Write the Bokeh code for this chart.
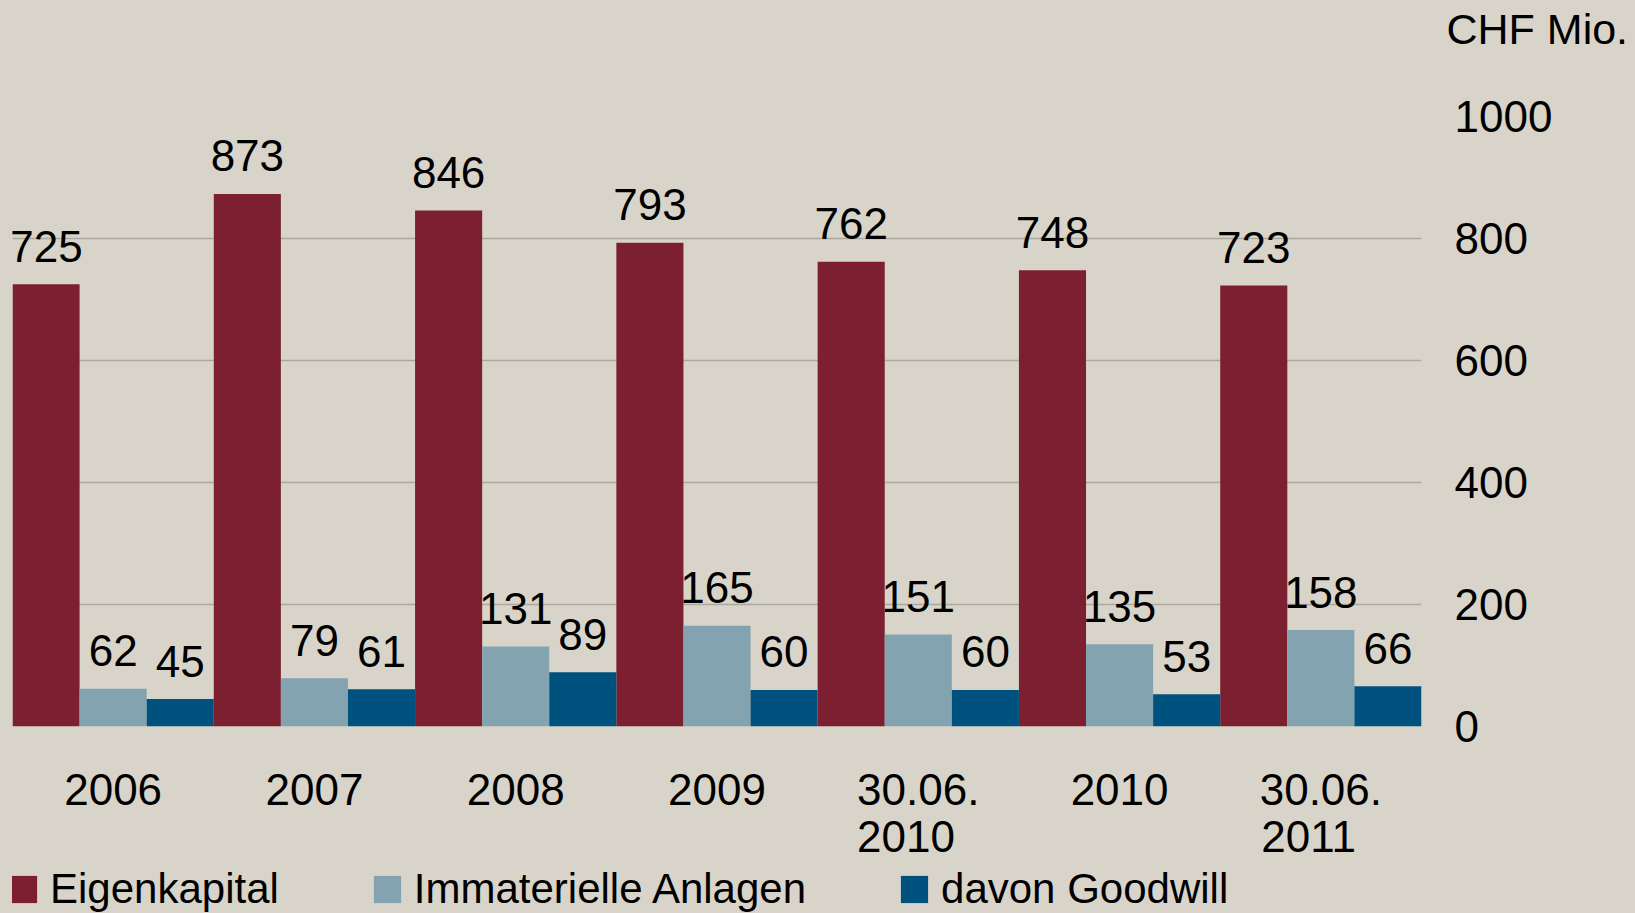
from bokeh.plotting import figure
from bokeh.layouts import column
from bokeh.models import ColumnDataSource, FactorRange, Range1d, Legend, LegendItem, FixedTicker
from bokeh.transform import dodge
from bokeh.core.properties import value
from bokeh.embed import file_html
from bokeh.resources import INLINE

categories = ["2006", "2007", "2008", "2009", "30.06.\n2010\u00a0\u00a0", "2010", "30.06.\n2011\u00a0\u00a0"]
eigenkapital = [725, 873, 846, 793, 762, 748, 723]
immaterielle = [62, 79, 131, 165, 151, 135, 158]
goodwill = [45, 61, 89, 60, 60, 53, 66]
y_ticks = [0, 200, 400, 600, 800, 1000]
series_names = ["Eigenkapital", "Immaterielle Anlagen", "davon Goodwill"]
unit_label = "CHF Mio."

colors = ["#7C2031", "#84A3B1", "#00527E"]
bg = "#D9D4C9"
FONT = "Liberation Sans"
FS = "44px"
FS_LEG = "42px"
FS_UNIT = "43px"
W = 1635


def style_fig(fig):
    fig.background_fill_color = bg
    fig.border_fill_color = bg
    fig.outline_line_color = None
    return fig


src = ColumnDataSource(dict(
    cat=categories,
    ek=eigenkapital, im=immaterielle, gw=goodwill,
    ek_t=[str(v) for v in eigenkapital],
    im_t=[str(v) for v in immaterielle],
    gw_t=[str(v) for v in goodwill],
))
keys = ["ek", "im", "gw"]
offsets = [-1/3, 0, 1/3]

# ---- header strip with the unit label (as a horizontal axis label) ----
HH = 56
header = style_fig(figure(width=W, height=HH, x_range=Range1d(0, 1), y_range=Range1d(0, 1),
                          output_backend="svg", toolbar_location=None, title=None,
                          x_axis_location=None, y_axis_location="right",
                          min_border_left=12, min_border_right=214,
                          min_border_top=0, min_border_bottom=0))
header.grid.visible = False
ha = header.yaxis[0]
ha.ticker = FixedTicker(ticks=[])
ha.axis_line_color = None
ha.major_tick_line_color = None
ha.minor_tick_line_color = None
ha.axis_label = unit_label
ha.axis_label_orientation = "horizontal"
ha.axis_label_standoff = 25
ha.axis_label_text_font = FONT
ha.axis_label_text_font_size = FS_UNIT
ha.axis_label_text_font_style = "normal"
ha.axis_label_text_color = "black"

# ---- main chart ----
p = style_fig(figure(width=W, height=810,
                     x_range=FactorRange(*categories, range_padding=0),
                     y_range=Range1d(0, 1000),
                     output_backend="svg", toolbar_location=None,
                     y_axis_location="right", title=None,
                     min_border_left=12, min_border_right=214,
                     min_border_top=60, min_border_bottom=140))
p.xgrid.grid_line_color = None
p.ygrid.ticker = FixedTicker(ticks=y_ticks)
p.ygrid.grid_line_color = "#ABA89D"
p.ygrid.grid_line_width = 1.5

ya = p.yaxis[0]
ya.ticker = FixedTicker(ticks=y_ticks)
ya.axis_line_color = None
ya.major_tick_line_color = None
ya.minor_tick_line_color = None
ya.major_label_text_font = FONT
ya.major_label_text_font_size = FS
ya.major_label_text_color = "black"
ya.major_label_standoff = 27

xa = p.xaxis[0]
xa.axis_line_color = None
xa.major_tick_line_color = None
xa.minor_tick_line_color = None
xa.major_label_text_font = FONT
xa.major_label_text_font_size = FS
xa.major_label_text_color = "black"
xa.major_label_text_line_height = 0.96
xa.major_label_standoff = 32

for k, off, c in zip(keys, offsets, colors):
    p.vbar(x=dodge("cat", off, range=p.x_range), top=k, width=1/3, bottom=0,
           source=src, fill_color=c, line_color=None)
    p.text(x=dodge("cat", off, range=p.x_range), y=k, text=k + "_t", source=src,
           text_align="center", text_baseline="alphabetic", y_offset=-38,
           text_font=value(FONT), text_font_size=FS, text_color="black")

# ---- legend strip ----
LH = 47
lf = style_fig(figure(width=W, height=LH,
                      x_range=FactorRange(*categories, range_padding=0),
                      y_range=Range1d(0, 1000),
                      output_backend="svg", toolbar_location=None, title=None,
                      x_axis_location=None, y_axis_location=None,
                      min_border_left=12, min_border_right=214,
                      min_border_top=0, min_border_bottom=0))
lf.grid.visible = False
lrends = []
for k, off, c in zip(keys, offsets, colors):
    r = lf.vbar(x=dodge("cat", off, range=lf.x_range), top=k, width=1/3, bottom=0,
                source=src, fill_color=c, line_color=None, visible=False)
    lrends.append(r)
legend = Legend(items=[LegendItem(label=n, renderers=[r]) for n, r in zip(series_names, lrends)],
                orientation="horizontal", location=(-6, 0),
                label_text_font=FONT, label_text_font_size=FS_LEG, label_text_color="black",
                glyph_width=34, glyph_height=34, label_standoff=10, spacing=91,
                padding=0, margin=0, background_fill_alpha=0, border_line_color=None,
                inactive_fill_alpha=0)
lf.add_layout(legend)

layout = column(header, p, lf, spacing=0, styles={"background-color": bg})
open("out.html", "w").write(file_html(layout, INLINE))
